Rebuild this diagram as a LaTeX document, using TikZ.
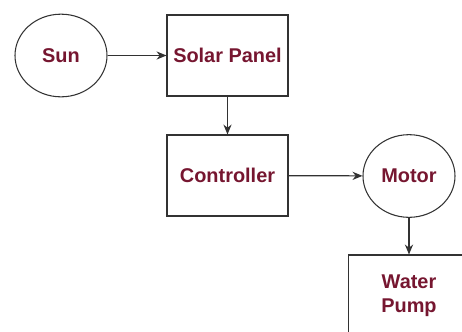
\documentclass[tikz,border=0pt]{standalone}
\usepackage{fontspec}
\setmainfont{Liberation Sans}
\usetikzlibrary{shapes.geometric, arrows.meta}
\definecolor{labelred}{RGB}{118,22,48}
\definecolor{linegray}{RGB}{50,50,50}
\begin{document}
\begin{tikzpicture}[x=0.03cm, y=-0.03cm, >={Stealth[length=8.5pt, width=7pt]},
    block/.style={draw=linegray, line width=0.9pt, minimum width=3.63cm, minimum height=2.43cm, align=center},
    round/.style={ellipse, draw=linegray, line width=0.9pt, minimum width=2.76cm, minimum height=2.48cm},
    link/.style={->, draw=linegray, line width=1pt},
    every node/.style={font=\bfseries\fontsize{17}{20}\selectfont, text=labelred}]
    \useasboundingbox (0,0) rectangle (462,332);
    \clip (0,0) rectangle (462,332);
    \node[round] (sun) at (61,55.5) {Sun};
    \node[block] (panel) at (227.5,55.5) {Solar Panel};
    \node[block] (ctrl) at (227.5,175.5) {Controller};
    \node[round] (motor) at (409,176) {Motor};
    \node[block] (pump) at (409,295.5) {Water\\Pump};
    \draw[link] (sun) -- (panel);
    \draw[link] (panel) -- (ctrl);
    \draw[link] (ctrl) -- (motor);
    \draw[link] (motor) -- (pump);
\end{tikzpicture}
\end{document}
